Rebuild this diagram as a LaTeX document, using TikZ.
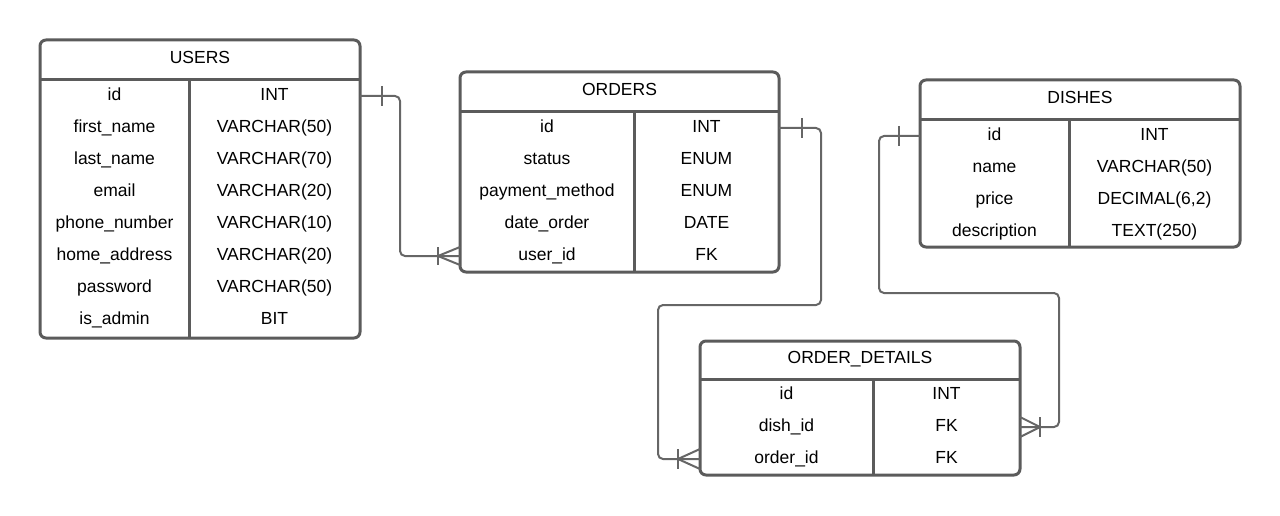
\documentclass[tikz,border=0pt]{standalone}
\usepackage{fontspec}
\setmainfont{Liberation Sans}
\usepackage{xcolor}
\usepackage{tikz}
\usetikzlibrary{calc}
\usetikzlibrary{positioning}
\definecolor{boxgray}{HTML}{5B5B5B}
\definecolor{relgray}{HTML}{666666}
\tikzset{
  mybox/.style={
    draw=boxgray,
    shape=rectangle,
    line width=3pt,
    rounded corners=6pt,
    inner sep=0pt,
    outer sep=0pt,
  },
  myline/.style={
    draw=boxgray,
    line width=3pt,
  },
  mycell/.style={
    inner sep=0pt,
    text height=12.5pt,
    text depth=4pt,
    font=\fontsize{17.5}{20}\selectfont,
  },
  myrel/.style={
    draw=relgray,
    line width=2pt,
    rounded corners=5pt,
  },
  mymark/.style={
    draw=relgray,
    line width=2pt,
  }
}

\begin{document}
\begin{tikzpicture}[x=1pt, y=-1pt]
    \useasboundingbox (0,0) rectangle (1280,516);

    % USERS
    \node [mybox, minimum width=320pt, minimum height=298pt] (users) at (200,189) {};
    \draw [myline] ($(users.north west)+(0,40)$) -- ($(users.north east)+(0,40)$);
    \draw [myline] ($(users.north west)+(149,40)$) -- ($(users.south west)+(149,0)$);
    \node [mycell] (usershead) at (200,59) {USERS};
    \node [mycell] (usersid)    at (114.5, 96) {id};
    \node [mycell] (usersfirst) at (114.5,128) {first\_name};
    \node [mycell] (userslast)  at (114.5,160) {last\_name};
    \node [mycell] (usersemail) at (114.5,192) {email};
    \node [mycell] (usersphone) at (114.5,224) {phone\_number};
    \node [mycell] (usershome)  at (114.5,256) {home\_address};
    \node [mycell] (userspass)  at (114.5,288) {password};
    \node [mycell] (usersadmin) at (114.5,320) {is\_admin};
    \node [mycell] (usersidt)    at (274.5, 96) {INT};
    \node [mycell] (usersfirstt) at (274.5,128) {VARCHAR(50)};
    \node [mycell] (userslastt)  at (274.5,160) {VARCHAR(70)};
    \node [mycell] (usersemailt) at (274.5,192) {VARCHAR(20)};
    \node [mycell] (usersphonet) at (274.5,224) {VARCHAR(10)};
    \node [mycell] (usershomet)  at (274.5,256) {VARCHAR(20)};
    \node [mycell] (userspasst)  at (274.5,288) {VARCHAR(50)};
    \node [mycell] (usersadmint) at (274.5,320) {BIT};

    % ORDERS
    \node [mybox, minimum width=319pt, minimum height=200pt] (orders) at (619.5,172) {};
    \draw [myline] ($(orders.north west)+(0,40)$) -- ($(orders.north east)+(0,40)$);
    \draw [myline] ($(orders.north west)+(174,40)$) -- ($(orders.south west)+(174,0)$);
    \node [mycell] (ordershead) at (619.5,91) {ORDERS};
    \node [mycell] (ordersid)     at (547,128) {id};
    \node [mycell] (ordersstatus) at (547,160) {status};
    \node [mycell] (orderspay)    at (547,192) {payment\_method};
    \node [mycell] (ordersdate)   at (547,224) {date\_order};
    \node [mycell] (ordersuser)   at (547,256) {user\_id};
    \node [mycell] (ordersidt)     at (706.5,128) {INT};
    \node [mycell] (ordersstatust) at (706.5,160) {ENUM};
    \node [mycell] (orderspayt)    at (706.5,192) {ENUM};
    \node [mycell] (ordersdatet)   at (706.5,224) {DATE};
    \node [mycell] (ordersusert)   at (706.5,256) {FK};

    % DISHES
    \node [mybox, minimum width=320pt, minimum height=167pt] (dishes) at (1080,163.5) {};
    \draw [myline] ($(dishes.north west)+(0,40)$) -- ($(dishes.north east)+(0,40)$);
    \draw [myline] ($(dishes.north west)+(149,40)$) -- ($(dishes.south west)+(149,0)$);
    \node [mycell] (disheshead) at (1080,99) {DISHES};
    \node [mycell] (dishesid)    at (994.5,136) {id};
    \node [mycell] (dishesname)  at (994.5,168) {name};
    \node [mycell] (dishesprice) at (994.5,200) {price};
    \node [mycell] (dishesdesc)  at (994.5,232) {description};
    \node [mycell] (dishesidt)    at (1154.5,136) {INT};
    \node [mycell] (dishesnamet)  at (1154.5,168) {VARCHAR(50)};
    \node [mycell] (dishespricet) at (1154.5,200) {DECIMAL(6,2)};
    \node [mycell] (dishesdesct)  at (1154.5,232) {TEXT(250)};

    % ORDER_DETAILS
    \node [mybox, minimum width=320pt, minimum height=134pt] (details) at (860,408) {};
    \draw [myline] ($(details.north west)+(0,38)$) -- ($(details.north east)+(0,38)$);
    \draw [myline] ($(details.north west)+(173,38)$) -- ($(details.south west)+(173,0)$);
    \node [mycell] (detailshead) at (860,359) {ORDER\_DETAILS};
    \node [mycell] (detailsid)    at (786.5,395) {id};
    \node [mycell] (detailsdish)  at (786.5,427) {dish\_id};
    \node [mycell] (detailsorder) at (786.5,459) {order\_id};
    \node [mycell] (detailsidt)    at (946.5,395) {INT};
    \node [mycell] (detailsdisht)  at (946.5,427) {FK};
    \node [mycell] (detailsordert) at (946.5,459) {FK};

    % Relation end points
    \coordinate (usersout)   at (users.east |- usersid);
    \coordinate (ordersin)   at (orders.west |- ordersuser);
    \coordinate (ordersout)  at (orders.east |- ordersid);
    \coordinate (detailsin)  at (details.west |- detailsorder);
    \coordinate (dishesout)  at (dishes.west |- dishesid);
    \coordinate (detailsin2) at (details.east |- detailsdish);

    % USERS -> ORDERS
    \draw [myrel] (usersout) -- (400,96) -- (400,256) -- (ordersin);
    \draw [mymark] ($(usersout)+(22,-10)$) -- ++(0,20);
    \draw [mymark] ($(ordersin)+(-22,-9)$) -- ++(0,18);
    \draw [mymark] ($(ordersin)+(0,-9)$) -- ($(ordersin)+(-22,0)$) -- ($(ordersin)+(0,9)$);

    % ORDERS -> ORDER_DETAILS
    \draw [myrel] (ordersout) -- (821,128) -- (821,305) -- (658,305) -- (658,459) -- (detailsin);
    \draw [mymark] ($(ordersout)+(23,-10)$) -- ++(0,20);
    \draw [mymark] ($(detailsin)+(-22,-10)$) -- ++(0,20);
    \draw [mymark] ($(detailsin)+(0,-10)$) -- ($(detailsin)+(-22,0)$) -- ($(detailsin)+(0,10)$);

    % DISHES -> ORDER_DETAILS
    \draw [myrel] (dishesout) -- (879,136) -- (879,293) -- (1059,293) -- (1059,427) -- (detailsin2);
    \draw [mymark] ($(dishesout)+(-21,-10)$) -- ++(0,20);
    \draw [mymark] ($(detailsin2)+(20,-10)$) -- ++(0,20);
    \draw [mymark] ($(detailsin2)+(0,-10)$) -- ($(detailsin2)+(20,0)$) -- ($(detailsin2)+(0,10)$);
\end{tikzpicture}
\end{document}
